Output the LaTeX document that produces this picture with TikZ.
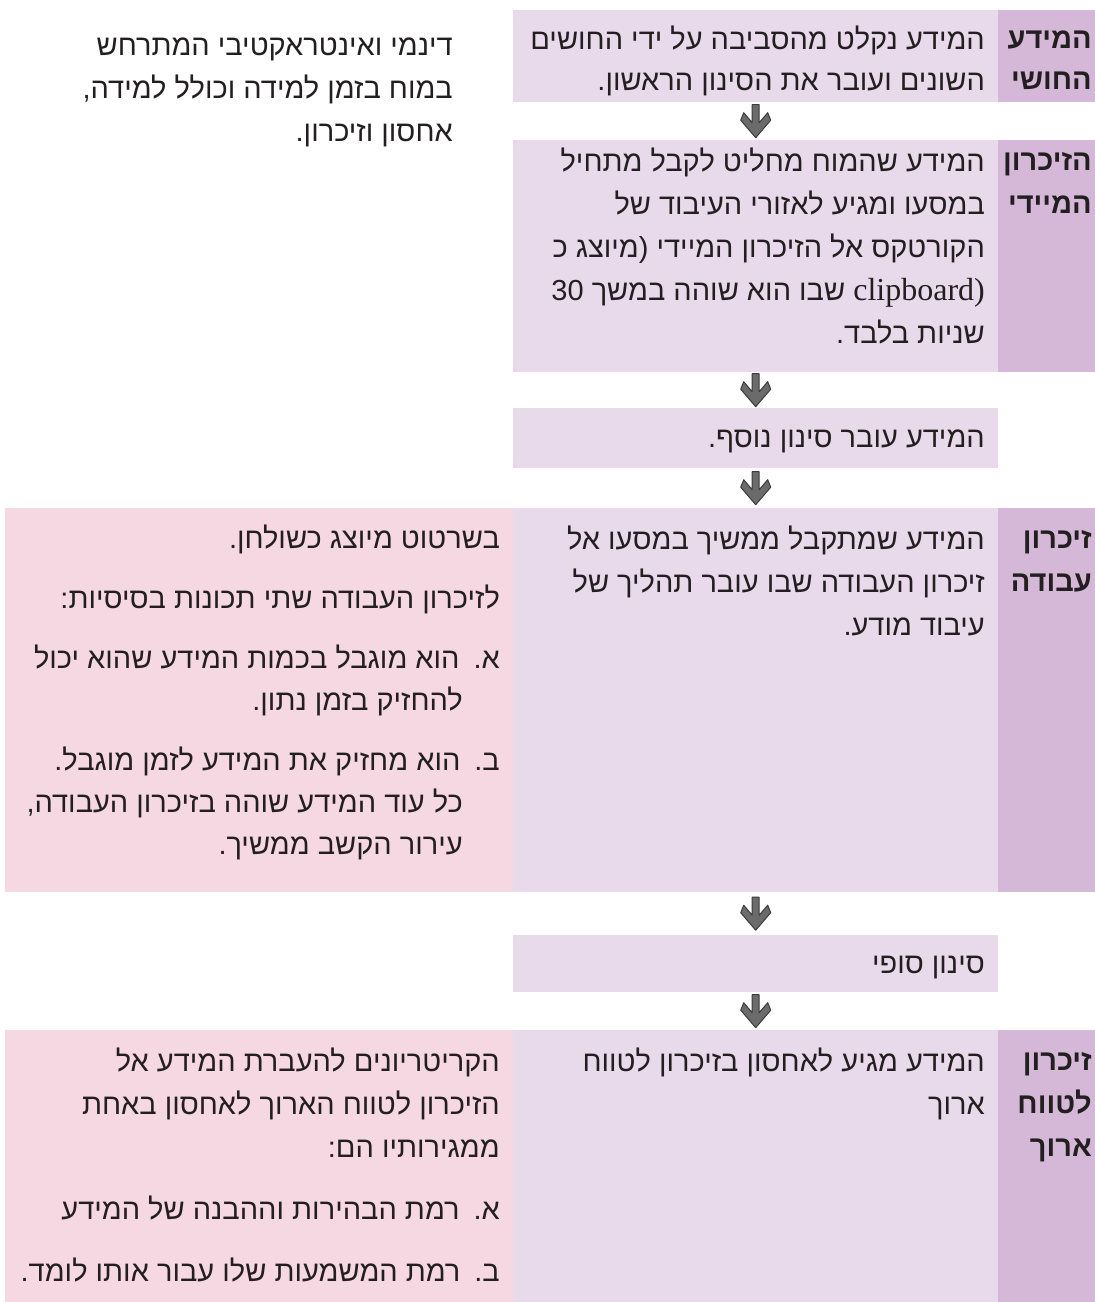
\documentclass[tikz,border=0pt]{standalone}
\usepackage{fontspec}
\newfontfamily\hebfont[Script=Hebrew]{Liberation Sans}
\newfontfamily\latinserif{Liberation Serif}
\TeXXeTstate=1
\usetikzlibrary{calc}
\definecolor{lavender}{HTML}{E8DAEB}
\definecolor{mauve}{HTML}{D5B8D8}
\definecolor{blush}{HTML}{F6D8E2}
\definecolor{arrowgrey}{HTML}{6B6B6B}
\definecolor{arrowedge}{HTML}{3C3C3C}
\definecolor{ink}{HTML}{231F20}
\newcommand\rtline[1]{\beginR\rule{0pt}{22pt}#1\endR}
\newcommand\flowarrow[2]{%
  \draw[arrowblock] ($(#1.south)!0.5!(#2.north)+(0,-16.5)$) ++(-3.5,0) -- ++(7,0) -- ++(0,18)
    -- ++(8.5,-10) -- ++(3,7.5) -- ++(-15,17.5) -- ++(-15,-17.5) -- ++(3,-7.5) -- ++(8.5,10) -- cycle;}
\begin{document}
\begin{tikzpicture}[x=1pt,y=-1pt,line join=round,text=ink,
		font=\hebfont\fontsize{29}{43}\selectfont,
		lightbox/.style={fill=lavender,minimum width=485,anchor=north west,inner sep=0},
		labelbox/.style={fill=mauve,minimum width=97,anchor=north west,inner sep=0},
		notebox/.style={fill=blush,minimum width=508,anchor=north west,inner sep=0},
		bodytext/.style={anchor=north east,align=right,inner sep=0},
		labeltext/.style={anchor=north east,align=right,inner sep=0,font=\hebfont\bfseries\fontsize{29}{43}\selectfont},
		arrowblock/.style={fill=arrowgrey,draw=arrowedge,line width=1}]
	\useasboundingbox (0,0) rectangle (1095,1302);
	% intro text, top left
	\node[bodytext] (intro) at (453,33) {\rtline{דינמי ואינטראקטיבי המתרחש}\\
		\rtline{במוח בזמן למידה וכולל למידה,}\\ \rtline{אחסון וזיכרון.}};
	% sensory information
	\node[lightbox,minimum height=92] (sens) at (513,10) {};
	\node[labelbox,minimum height=92] (sensl) at (998,10) {};
	\node[bodytext,font=\hebfont\fontsize{29}{41}\selectfont] (senst) at (985,26) {\rtline{המידע נקלט מהסביבה על ידי החושים}\\
		\rtline{השונים ועובר את הסינון הראשון.}};
	\node[labeltext,font=\hebfont\bfseries\fontsize{29}{41}\selectfont] (sensn) at (1092,26) {\rtline{המידע}\\ \rtline{החושי}};
	% immediate memory
	\node[lightbox,minimum height=232] (imm) at (513,140) {};
	\node[labelbox,minimum height=232] (imml) at (998,140) {};
	\node[bodytext] (immt) at (985,148) {\rtline{המידע שהמוח מחליט לקבל מתחיל}\\
		\rtline{במסעו ומגיע לאזורי העיבוד של}\\
		\rtline{הקורטקס אל הזיכרון המיידי (מיוצג כ}\\
		\rtline{{\latinserif\fontsize{32}{43}\selectfont clipboard)} שבו הוא שוהה במשך 30}\\
		\rtline{שניות בלבד.}};
	\node[labeltext] (immn) at (1092,148) {\rtline{הזיכרון}\\ \rtline{המיידי}};
	% further filtering
	\node[lightbox,minimum height=60] (filt) at (513,408) {};
	\node[bodytext] (filtt) at (985,425) {\rtline{המידע עובר סינון נוסף.}};
	% working memory
	\node[notebox,minimum height=384] (workp) at (5,508) {};
	\node[lightbox,minimum height=384] (work) at (513,508) {};
	\node[labelbox,minimum height=384] (workl) at (998,508) {};
	\node[bodytext] (workt) at (985,526) {\rtline{המידע שמתקבל ממשיך במסעו אל}\\
		\rtline{זיכרון העבודה שבו עובר תהליך של}\\ \rtline{עיבוד מודע.}};
	\node[labeltext] (workn) at (1092,526) {\rtline{זיכרון}\\ \rtline{עבודה}};
	\node[bodytext,font=\hebfont\fontsize{29}{42}\selectfont] (worknote) at (500,525) {\rtline{בשרטוט מיוצג כשולחן.}\\[18pt]
		\rtline{לזיכרון העבודה שתי תכונות בסיסיות:}\\[18pt]
		\rtline{א.\hspace{14pt}הוא מוגבל בכמות המידע שהוא יכול}\\
		\rtline{\hspace*{37pt}להחזיק בזמן נתון.}\\[18pt]
		\rtline{ב.\hspace{14pt}הוא מחזיק את המידע לזמן מוגבל.}\\
		\rtline{\hspace*{37pt}כל עוד המידע שוהה בזיכרון העבודה,}\\
		\rtline{\hspace*{37pt}עירור הקשב ממשיך.}};
	% final filtering
	\node[lightbox,minimum height=57] (final) at (513,935) {};
	\node[bodytext] (finalt) at (985,951) {\rtline{סינון סופי}};
	% long term memory
	\node[notebox,minimum height=272] (longp) at (5,1030) {};
	\node[lightbox,minimum height=272] (long) at (513,1030) {};
	\node[labelbox,minimum height=272] (longl) at (998,1030) {};
	\node[bodytext] (longt) at (985,1048) {\rtline{המידע מגיע לאחסון בזיכרון לטווח}\\
		\rtline{ארוך}};
	\node[labeltext] (longn) at (1092,1048) {\rtline{זיכרון}\\ \rtline{לטווח}\\ \rtline{ארוך}};
	\node[bodytext] (longnote) at (500,1048) {\rtline{הקריטריונים להעברת המידע אל}\\
		\rtline{הזיכרון לטווח הארוך לאחסון באחת}\\ \rtline{ממגירותיו הם:}\\[19pt]
		\rtline{א.\hspace{14pt}רמת הבהירות וההבנה של המידע}\\[19pt]
		\rtline{ב.\hspace{14pt}רמת המשמעות שלו עבור אותו לומד.}};
	% arrows between the stages
	\flowarrow{sens}{imm}
	\flowarrow{imm}{filt}
	\flowarrow{filt}{work}
	\flowarrow{work}{final}
	\flowarrow{final}{long}
\end{tikzpicture}
\end{document}
